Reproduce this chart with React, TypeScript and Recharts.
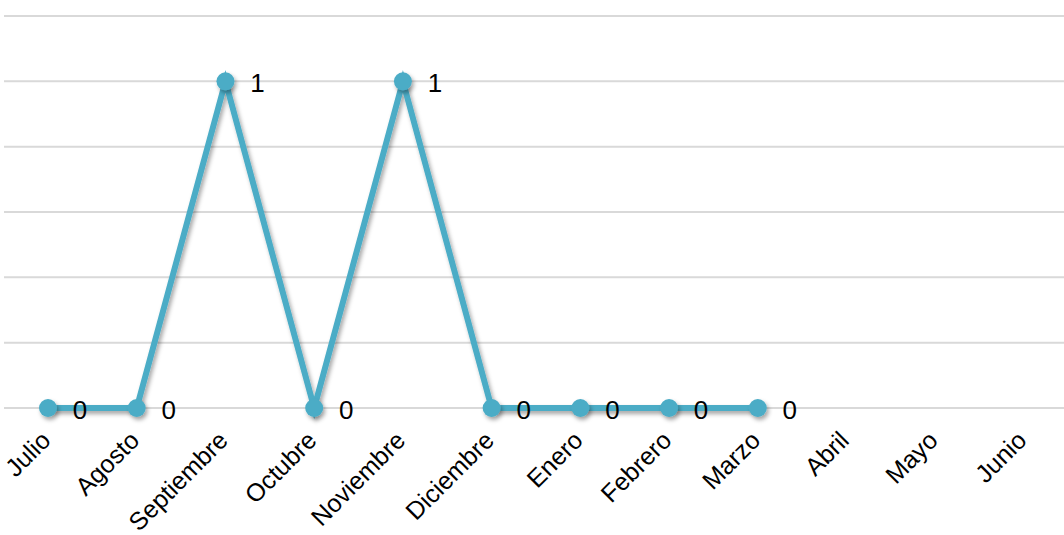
import { FC } from "react";
import { CartesianGrid, LabelList, Line, LineChart, XAxis, YAxis } from "recharts";

const MONTHS = [
  "Julio",
  "Agosto",
  "Septiembre",
  "Octubre",
  "Noviembre",
  "Diciembre",
  "Enero",
  "Febrero",
  "Marzo",
  "Abril",
  "Mayo",
  "Junio",
];

const VALUES: (number | null)[] = [0, 0, 1, 0, 1, 0, 0, 0, 0, null, null, null];

const Y_TICKS = [0, 0.2, 0.4, 0.6, 0.8, 1, 1.2];

const COLOR = "#4BACC6";
const FONT = "'Liberation Sans', Arial, sans-serif";

const data = MONTHS.map((name, i) => ({ name, value: VALUES[i] }));

const MonthTick = (props: any) => {
  const { x, y, payload } = props;
  return (
    <g transform={`translate(${x + 4},${y + 26})`}>
      <text
        textAnchor="end"
        transform="rotate(-45)"
        fontSize={25}
        fontFamily={FONT}
        fill="#000"
      >
        {payload.value}
      </text>
    </g>
  );
};

const EmptyTick = () => <g />;

const ValueLabel = (props: any) => {
  const { x, y, value } = props;
  if (value === null || value === undefined) return null;
  return (
    <text
      x={x + 32}
      y={y + 2}
      textAnchor="middle"
      dominantBaseline="central"
      fontSize={26}
      fontFamily={FONT}
      fill="#000"
    >
      {value}
    </text>
  );
};

const App: FC = () => {
  return (
    <div
      style={{
        position: "absolute",
        left: 0,
        top: 0,
        width: 1064,
        height: 535,
        overflow: "hidden",
        background: "#fff",
      }}
    >
      <LineChart
        width={1072}
        height={535}
        data={data}
        margin={{ top: 16, right: 4, left: 4, bottom: 0 }}
      >
        <defs>
          <filter id="shadow" x="-50%" y="-50%" width="200%" height="200%">
            <feDropShadow dx="2" dy="3" stdDeviation="2" floodColor="#000" floodOpacity="0.35" />
          </filter>
        </defs>
        <CartesianGrid vertical={false} stroke="#d9d9d9" strokeWidth={2} />
        <XAxis
          dataKey="name"
          axisLine={false}
          tickLine={false}
          interval={0}
          height={127}
          padding={{ left: 44, right: 44 }}
          tick={<MonthTick />}
        />
        <YAxis
          domain={[0, 1.2]}
          ticks={Y_TICKS}
          width={0}
          axisLine={false}
          tickLine={false}
          tick={<EmptyTick />}
        />
        <Line
          type="linear"
          dataKey="value"
          stroke={COLOR}
          strokeWidth={6}
          dot={{ r: 9, fill: COLOR, stroke: COLOR, strokeWidth: 0, filter: "url(#shadow)" }}
          activeDot={false}
          style={{ filter: "url(#shadow)" }}
          isAnimationActive={false}
        >
          <LabelList dataKey="value" content={<ValueLabel />} />
        </Line>
      </LineChart>
    </div>
  );
};

export default App;
